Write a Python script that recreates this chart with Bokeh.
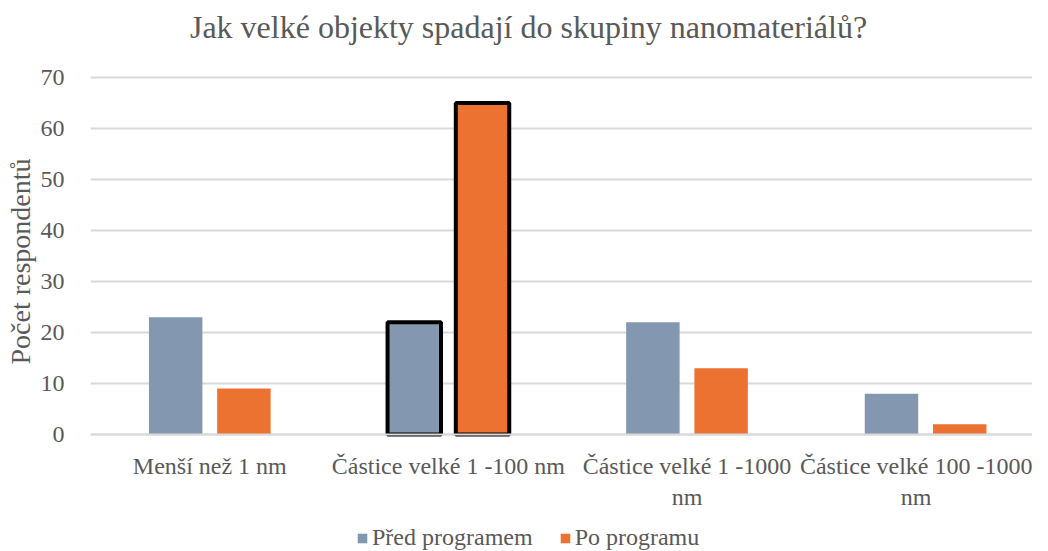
from bokeh.plotting import figure
from bokeh.models import (ColumnDataSource, Range1d, FixedTicker, Legend, LegendItem, Title, Label)
from bokeh.embed import file_html
from bokeh.resources import INLINE

title_text = "Jak velké objekty spadají do skupiny nanomateriálů?"
y_label = "Počet respondentů"
categories = ["Menší než 1 nm", "Částice velké 1 -100 nm",
              "Částice velké 1 -1000\nnm", "Částice velké 100 -1000\nnm"]
before = [23, 22, 22, 8]
after = [9, 65, 13, 2]
series_names = ["Před programem", "Po programu"]
highlight = "Částice velké 1 -100 nm"
y_ticks = [0, 10, 20, 30, 40, 50, 60, 70]

BLUE = "#8497B0"
ORANGE = "#EC7232"
TEXT = "#595959"
GRID = "#D9D9D9"
FONT = "Liberation Serif"

centers = [i + 0.5 for i in range(len(categories))]
offset = 0.143
bw = 0.224

def make_source(vals, shift):
    return ColumnDataSource(dict(
        x=[c + shift for c in centers],
        top=vals,
        lc=["black" if c == highlight else None for c in categories],
        lw=[4 if c == highlight else 0 for c in categories],
    ))

# the frame covers the whole canvas height so title and legend sit inside it;
# the x axis is pinned at y = 0
p = figure(width=1032, height=551, output_backend="svg", toolbar_location=None,
           title=None,
           x_range=Range1d(0, 3.948), y_range=Range1d(-22.94, 85.1),
           min_border_left=80, min_border_right=0, min_border_top=0,
           min_border_bottom=0)
p.outline_line_color = None
p.background_fill_color = "white"

title = Label(x=438, y=525, x_units="screen", y_units="screen", text=title_text,
              text_font=FONT, text_font_size="32px", text_color=TEXT,
              text_align="center", text_baseline="alphabetic")
p.add_layout(title)

r1 = p.vbar(x="x", top="top", width=bw, source=make_source(before, -offset),
            fill_color=BLUE, line_color="lc", line_width="lw")
r2 = p.vbar(x="x", top="top", width=bw, source=make_source(after, offset),
            fill_color=ORANGE, line_color="lc", line_width="lw")

# y axis
p.yaxis.ticker = FixedTicker(ticks=y_ticks)
p.yaxis.axis_line_color = None
p.yaxis.major_tick_line_color = None
p.yaxis.minor_tick_line_color = None
p.yaxis.major_label_text_font = FONT
p.yaxis.major_label_text_font_size = "24px"
p.yaxis.major_label_text_color = TEXT
p.yaxis.major_label_standoff = 20

ylab = Title(text=y_label, align="left", offset=187, standoff=4,
             text_font=FONT, text_font_size="28px", text_font_style="normal",
             text_color=TEXT, vertical_align="bottom")
p.add_layout(ylab, "left")

# x axis pinned at zero
p.xaxis.fixed_location = 0
p.xaxis.ticker = FixedTicker(ticks=centers)
p.xaxis.major_label_overrides = {c: lab for c, lab in zip(centers, categories)}
p.xaxis.axis_line_color = GRID
p.xaxis.axis_line_width = 2
p.xaxis.major_tick_line_color = None
p.xaxis.minor_tick_line_color = None
p.xaxis.major_label_text_font = FONT
p.xaxis.major_label_text_font_size = "24px"
p.xaxis.major_label_text_color = TEXT
p.xaxis.major_label_standoff = 12

p.xgrid.grid_line_color = None
p.ygrid.grid_line_color = GRID
p.ygrid.grid_line_width = 2
p.ygrid.ticker = FixedTicker(ticks=y_ticks)

legend = Legend(items=[LegendItem(label=series_names[0], renderers=[r1]),
                       LegendItem(label=series_names[1], renderers=[r2])],
                orientation="horizontal", location=(266, 0),
                label_text_font=FONT, label_text_font_size="24px",
                label_text_color=TEXT, glyph_width=12, glyph_height=12,
                label_standoff=4, spacing=26, padding=0, margin=0,
                border_line_color=None, background_fill_alpha=0)
p.add_layout(legend, "center")

open("out.html", "w").write(file_html(p, INLINE))
